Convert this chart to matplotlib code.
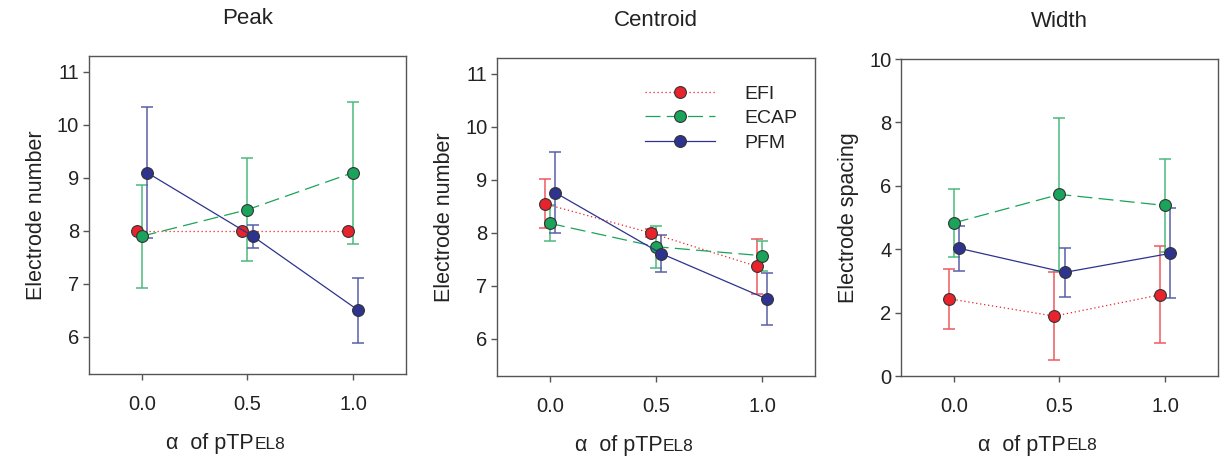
import matplotlib
matplotlib.use("Agg")
import matplotlib.pyplot as plt

plt.rcParams['font.family'] = ['Liberation Sans', 'DejaVu Sans']

ALPHA = [0.0, 0.5, 1.0]
OFFSET = {'EFI': -0.025, 'ECAP': 0.0, 'PFM': 0.025}

# Peak
peak_mean = {'EFI': [8.0, 8.0, 8.0], 'ECAP': [7.9, 8.4, 9.1], 'PFM': [9.1, 7.9, 6.5]}
peak_err = {'EFI': [0.0, 0.0, 0.0], 'ECAP': [0.97, 0.97, 1.34], 'PFM': [1.24, 0.22, 0.61]}
# Centroid
cent_mean = {'EFI': [8.55, 8.0, 7.37], 'ECAP': [8.18, 7.74, 7.57], 'PFM': [8.76, 7.61, 6.75]}
cent_err = {'EFI': [0.46, 0.07, 0.52], 'ECAP': [0.34, 0.40, 0.28], 'PFM': [0.77, 0.35, 0.49]}
# Width
width_mean = {'EFI': [2.44, 1.89, 2.56], 'ECAP': [4.83, 5.73, 5.38], 'PFM': [4.03, 3.27, 3.87]}
width_err = {'EFI': [0.95, 1.38, 1.53], 'ECAP': [1.08, 2.42, 1.48], 'PFM': [0.71, 0.77, 1.42]}

STYLE = {
    'EFI': dict(color='#e8232b', ls=(0, (1, 2.2)), ecolor='#ee5a5f'),
    'ECAP': dict(color='#1aa35a', ls=(0, (12, 5)), ecolor='#4cb97c'),
    'PFM': dict(color='#2d338e', ls='-', ecolor='#5a5fa8'),
}

panels = [
    ('Peak', peak_mean, peak_err, 'Electrode number', (5.3, 11.3), [6, 7, 8, 9, 10, 11],
     [0.0728, 0.1834, 0.2594, 0.6943]),
    ('Centroid', cent_mean, cent_err, 'Electrode number', (5.3, 11.3), [6, 7, 8, 9, 10, 11],
     [0.4067, 0.179, 0.2602, 0.6943]),
    ('Width', width_mean, width_err, 'Electrode spacing', (0, 10), [0, 2, 4, 6, 8, 10],
     [0.7373, 0.179, 0.2594, 0.6921]),
]

fig = plt.figure(figsize=(12.22, 4.58), dpi=100)

for i, (title, means, errs, ylabel, ylim, yticks, pos) in enumerate(panels):
    ax = fig.add_axes(pos)
    for name in ['EFI', 'ECAP', 'PFM']:
        st = STYLE[name]
        xs = [a + OFFSET[name] for a in ALPHA]
        if any(errs[name]):
            ax.errorbar(xs, means[name], yerr=errs[name], fmt='none', ecolor=st['ecolor'],
                        elinewidth=1.1, capsize=4.5, capthick=1.1, zorder=2)
        ax.plot(xs, means[name], color=st['color'], ls=st['ls'], lw=0.9, marker='o',
                markersize=8.5, markerfacecolor=st['color'], markeredgecolor='#333333',
                markeredgewidth=0.8, label=name, zorder=3)
    ax.set_xlim(-0.25, 1.25)
    ax.set_ylim(*ylim)
    ax.set_xticks(ALPHA)
    ax.set_xticklabels(['0.0', '0.5', '1.0'])
    ax.set_yticks(yticks)
    for sp in ax.spines.values():
        sp.set_color('#555555')
        sp.set_linewidth(1.0)
    ax.tick_params(axis='x', direction='out', length=4, width=1, color='#555555',
                   labelsize=14.5, pad=11, labelcolor='#222222')
    ax.tick_params(axis='y', direction='out', length=4, width=1, color='#555555',
                   labelsize=14.5, pad=3, labelcolor='#222222')
    ax.set_title(title, fontsize=16, pad=23, color='#222222')
    ax.set_ylabel(ylabel, fontsize=15.5, labelpad=7, color='#222222')

    # x label: "α of pTP" followed by smaller "EL8" on the same baseline
    t1 = ax.text(0.52, -0.235, 'α  of pTP', transform=ax.transAxes, fontsize=15.5,
                 ha='right', va='baseline', color='#222222')
    ax.annotate('EL8', xy=(1, 0), xycoords=t1, xytext=(0.5, 1.5), textcoords='offset points',
                fontsize=12.5, ha='left', va='bottom', color='#222222')

    if title == 'Centroid':
        ax.legend(loc='upper right', bbox_to_anchor=(1.0, 0.97), frameon=False,
                  fontsize=14, handlelength=3.6, handletextpad=1.5, labelspacing=0.35,
                  labelcolor='#222222')

fig.savefig('out.png', dpi=100)
